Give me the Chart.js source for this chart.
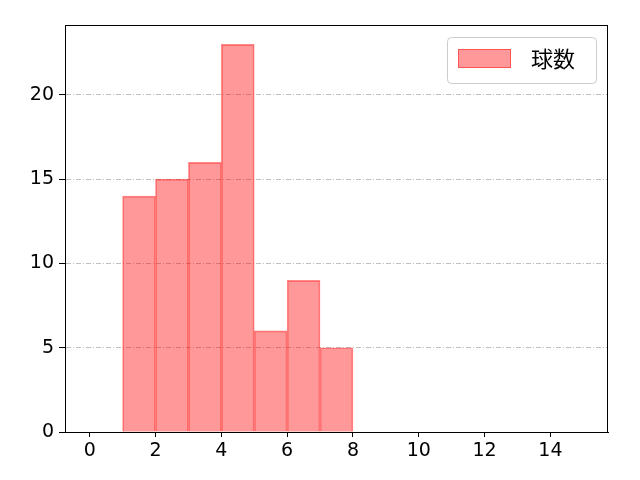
<!DOCTYPE html>
<html>
<head>
<meta charset="utf-8">
<script src="https://cdn.jsdelivr.net/npm/chart.js@4"></script>
<style>
  body { margin: 0; background: #fff; }
  canvas { display: block; }
</style>
</head>
<body>
<canvas id="pitchChart" width="640" height="480"></canvas>
<script>
const binStarts = [1, 2, 3, 4, 5, 6, 7];
const pitchCounts = [14, 15, 16, 23, 6, 9, 5];
const xTicks = [0, 2, 4, 6, 8, 10, 12, 14];
const yTicks = [0, 5, 10, 15, 20];
const seriesLabel = '球数';

const FONT = '"Noto Sans CJK JP", "Noto Sans", sans-serif';
const TICK_FONT = '"DejaVu Sans", sans-serif';

// frame on all four sides + legend box inside the plot, like matplotlib
const frameAndLegend = {
    id: 'frameAndLegend',
    afterDraw(chart) {
        const ctx = chart.ctx;
        const a = chart.chartArea;
        ctx.save();
        ctx.strokeStyle = '#000';
        ctx.lineWidth = 1;
        ctx.strokeRect(a.left + 0.5, a.top + 0.5, a.right - a.left - 1, a.bottom - a.top);

        const ds = chart.data.datasets[0];
        const bx = 447, by = 37, bw = 149, bh = 46;
        ctx.beginPath();
        ctx.roundRect(bx + 0.5, by + 0.5, bw, bh, 4);
        ctx.fillStyle = 'rgba(255,255,255,0.8)';
        ctx.fill();
        ctx.strokeStyle = '#cccccc';
        ctx.stroke();

        ctx.fillStyle = ds.backgroundColor;
        ctx.fillRect(458, 49, 53, 19);
        ctx.strokeStyle = ds.borderColor;
        ctx.strokeRect(458.5, 49.5, 52, 18);

        ctx.fillStyle = '#000';
        ctx.font = '22px ' + FONT;
        ctx.textBaseline = 'middle';
        ctx.textAlign = 'left';
        ctx.fillText(ds.label, 531, 59);
        ctx.restore();
    }
};

const ctx = document.getElementById('pitchChart').getContext('2d');
new Chart(ctx, {
    type: 'bar',
    data: {
        datasets: [{
            label: seriesLabel,
            data: binStarts.map((b, i) => ({ x: b + 0.5, y: pitchCounts[i] })),
            backgroundColor: 'rgba(255,0,0,0.4)',
            borderColor: 'rgba(255,0,0,0.45)',
            borderWidth: 1,
            barPercentage: 1,
            categoryPercentage: 1
        }]
    },
    options: {
        responsive: false,
        animation: false,
        devicePixelRatio: 1,
        layout: {
            padding: { top: 25, right: 32, left: 0, bottom: 0 }
        },
        plugins: {
            legend: { display: false },
            tooltip: { enabled: false }
        },
        scales: {
            x: {
                type: 'linear',
                min: -0.75,
                max: 15.75,
                offset: false,
                afterBuildTicks: axis => { axis.ticks = xTicks.map(v => ({ value: v })); },
                afterFit: axis => { axis.height = 48; },
                ticks: {
                    color: '#000',
                    font: { family: TICK_FONT, size: 19 },
                    padding: 3,
                    maxRotation: 0
                },
                grid: {
                    offset: false,
                    drawOnChartArea: false,
                    tickLength: 5,
                    tickColor: '#000'
                },
                border: { color: '#000' }
            },
            y: {
                min: 0,
                max: 24.15,
                afterBuildTicks: axis => { axis.ticks = yTicks.map(v => ({ value: v })); },
                afterFit: axis => { axis.width = 65; },
                ticks: {
                    color: '#000',
                    font: { family: TICK_FONT, size: 19 },
                    padding: 5
                },
                grid: {
                    color: c => (c.tick && c.tick.value === 0) ? 'rgba(0,0,0,0)' : '#b0b0b0',
                    lineWidth: 0.8,
                    tickLength: 6,
                    tickColor: '#000',
                    tickWidth: 1
                },
                border: { color: '#000', dash: [5, 2, 1, 2] }
            }
        }
    },
    plugins: [frameAndLegend]
});
</script>
</body>
</html>
